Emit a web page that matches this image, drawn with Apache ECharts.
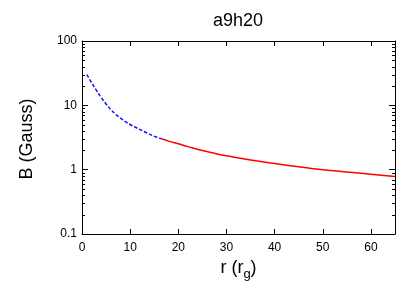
<!DOCTYPE html>
<html><head><meta charset="utf-8">
<script src="https://cdn.jsdelivr.net/npm/echarts@6/dist/echarts.min.js"></script>
<style>html,body{margin:0;padding:0;background:#fff}#c{width:415px;height:291px}</style>
</head><body><div id="c"></div>
<script>
const titleText = 'a9h20';
const yName = 'B (Gauss)';
const blueR = [1, 2, 3, 4, 5, 6, 7, 8, 9, 10, 11, 12, 13, 14, 15, 16.5];
const blueB = [30, 22.5, 17.1, 13.2, 10.5, 8.58, 7.26, 6.32, 5.6, 5.04, 4.6, 4.22, 3.88, 3.57, 3.3, 3.02];
const redR = [16.5, 18, 20, 22, 25, 27, 30, 35, 40, 45, 50, 55, 60, 65];
const redB = [3.02, 2.78, 2.52, 2.28, 1.98, 1.83, 1.64, 1.41, 1.245, 1.11, 1.0, 0.92, 0.85, 0.785];
const yMinorTicks = [0.2,0.3,0.4,0.5,0.6,0.7,0.8,0.9,2,3,4,5,6,7,8,9,20,30,40,50,60,70,80,90];

const font = 'Liberation Sans, Arial, sans-serif';
const chart = echarts.init(document.getElementById('c'), null, {renderer: 'canvas'});
const axisCommon = {
  axisLine: {show: true, onZero: false, lineStyle: {color: '#000', width: 1}},
  splitLine: {show: false}
};
chart.setOption({
  animation: false,
  grid: {left: 82, right: 20, top: 41, bottom: 57},
  graphic: [
    {type: 'text', x: 238, y: 21,
      style: {text: titleText, font: '18px ' + font, fill: '#000', align: 'center', verticalAlign: 'middle'}},
    {type: 'text', x: 27, y: 139, rotation: Math.PI / 2,
      style: {text: yName, font: '18px ' + font, fill: '#000', align: 'center', verticalAlign: 'middle'}}
  ],
  xAxis: [
    Object.assign({type: 'value', min: 0, max: 65, interval: 10, position: 'bottom',
      name: '{a|r (r}{s|g}{a|)}', nameLocation: 'middle', nameGap: 22,
      nameTextStyle: {rich: {a: {fontFamily: font, fontSize: 18, color: '#000'},
        s: {fontFamily: font, fontSize: 13, color: '#000', verticalAlign: 'bottom', padding: [12,0,0,0]}}},
      axisTick: {show: true, inside: true, length: 5, lineStyle: {color: '#000'}},
      axisLabel: {fontFamily: font, fontSize: 12, color: '#000', margin: 8, showMaxLabel: false}}, axisCommon),
    Object.assign({type: 'value', min: 0, max: 65, interval: 10, position: 'top',
      axisTick: {show: true, inside: true, length: 5, lineStyle: {color: '#000'}},
      axisLabel: {show: false}}, axisCommon)
  ],
  yAxis: [
    Object.assign({type: 'log', logBase: 10, min: 0.1, max: 100, position: 'left',
      axisTick: {show: true, inside: true, length: 6, lineStyle: {color: '#000'}},
      axisLabel: {fontFamily: font, fontSize: 12, color: '#000', margin: 5,
        formatter: v => String(+v.toPrecision(3))}}, axisCommon),
    Object.assign({type: 'log', logBase: 10, min: 0.1, max: 100, position: 'right',
      axisTick: {show: true, inside: true, length: 6, lineStyle: {color: '#000'}},
      axisLabel: {show: false}}, axisCommon)
  ],
  series: [
    {type: 'line', data: blueR.map((r, i) => [r, blueB[i]]), smooth: 0.4, showSymbol: false,
      lineStyle: {color: '#1010ff', width: 1.5, type: [3.5, 2]}},
    {type: 'line', data: redR.map((r, i) => [r, redB[i]]), smooth: 0.4, showSymbol: false,
      lineStyle: {color: '#ff0000', width: 1.5}},
    {type: 'custom', data: yMinorTicks.map(v => [0, v]), silent: true,
      renderItem: function (params, api) {
        const p = api.coord([0, api.value(1)]);
        const cs = params.coordSys;
        const y = Math.round(p[1]) + 0.5;
        return {type: 'group', children: [
          {type: 'line', shape: {x1: cs.x, y1: y, x2: cs.x + 3, y2: y}, style: {stroke: '#000', lineWidth: 1}},
          {type: 'line', shape: {x1: cs.x + cs.width, y1: y, x2: cs.x + cs.width - 3, y2: y}, style: {stroke: '#000', lineWidth: 1}}
        ]};
      }}
  ]
});
</script></body></html>
